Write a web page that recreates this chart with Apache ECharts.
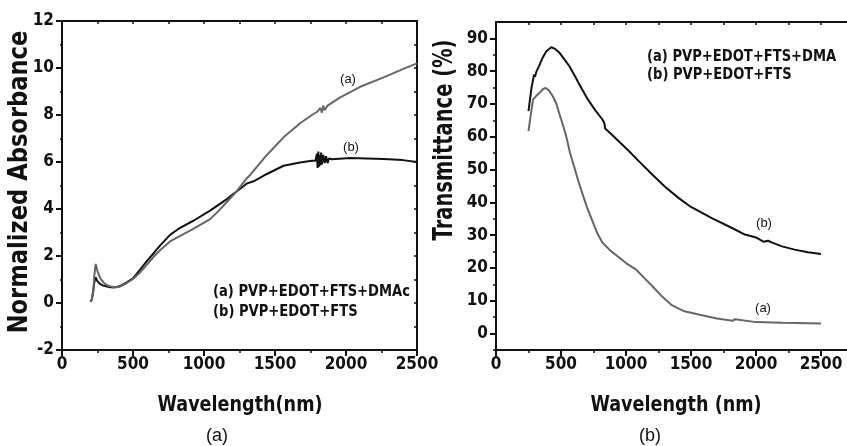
<!DOCTYPE html>
<html>
<head>
<meta charset="utf-8">
<script src="https://cdn.jsdelivr.net/npm/echarts@6/dist/echarts.min.js"></script>
<style>
  html, body { margin: 0; padding: 0; background: #fff; }
  #main { width: 847px; height: 446px; }
</style>
</head>
<body>
<div id="main"></div>
<script>
// panel (a): normalized absorbance
const absWlA = [200, 210, 220, 228, 237, 250, 270, 300, 330, 370, 400, 456, 500, 550, 600, 650, 700, 761, 832, 925, 1043, 1100, 1161, 1230, 1300, 1325, 1443, 1560, 1677, 1760, 1800, 1820, 1830, 1840, 1850, 1870, 1959, 2100, 2265, 2400, 2500]
const absA = [0.05, 0.15, 0.5, 1.2, 1.66, 1.35, 1.05, 0.82, 0.72, 0.67, 0.68, 0.85, 1.02, 1.3, 1.65, 2.0, 2.3, 2.62, 2.86, 3.15, 3.57, 3.9, 4.3, 4.75, 5.3, 5.45, 6.3, 7.05, 7.65, 8.0, 8.15, 8.3, 8.1, 8.4, 8.2, 8.4, 8.75, 9.2, 9.6, 9.95, 10.2]
const absWlB = [200, 210, 220, 228, 237, 250, 270, 291, 330, 362, 400, 456, 500, 550, 600, 650, 690, 761, 832, 925, 1043, 1161, 1230, 1280, 1300, 1310, 1349, 1443, 1560, 1677, 1760, 1785, 1795, 1800, 1805, 1810, 1815, 1820, 1825, 1830, 1840, 1850, 1860, 1870, 1880, 1900, 2030, 2265, 2400, 2500]
const absB = [0.05, 0.15, 0.5, 0.9, 1.09, 0.92, 0.8, 0.74, 0.68, 0.66, 0.7, 0.88, 1.05, 1.42, 1.8, 2.15, 2.44, 2.9, 3.2, 3.5, 3.93, 4.42, 4.75, 4.98, 5.08, 5.04, 5.18, 5.49, 5.84, 5.98, 6.05, 6.05, 6.35, 5.75, 6.45, 5.8, 6.3, 5.85, 6.4, 5.9, 6.3, 5.95, 6.25, 5.95, 6.15, 6.12, 6.17, 6.13, 6.08, 6.0]

// panel (b): transmittance
const trWlA = [250, 265, 285, 310, 336, 360, 382, 410, 438, 465, 489, 515, 540, 570, 600, 642, 700, 743, 780, 820, 880, 947, 1000, 1075, 1140, 1202, 1280, 1355, 1450, 1584, 1700, 1820, 1839, 1850, 2000, 2200, 2500]
const trA = [61.7, 66, 71.3, 72.5, 73.4, 74.5, 74.9, 74, 72.3, 70, 66.8, 63.5, 60.2, 55, 51, 45.4, 38.5, 34.2, 30.5, 27.7, 25.3, 23.2, 21.5, 19.6, 17, 14.5, 11.2, 8.6, 6.8, 5.6, 4.6, 3.9, 4.4, 3.8, 3.5, 3.3, 3.05]
const trWlB = [250, 273, 293, 300, 310, 336, 360, 387, 425, 455, 489, 530, 565, 610, 650, 700, 760, 820, 833, 840, 900, 1024, 1100, 1202, 1300, 1406, 1500, 1660, 1800, 1915, 2000, 2060, 2093, 2120, 2200, 2297, 2400, 2500]
const trB = [67.8, 74.9, 79, 78.3, 79.8, 82, 84.2, 86.1, 87.3, 86.8, 85.6, 83.4, 81.5, 78.3, 75.3, 71.8, 68.3, 65.2, 64.2, 62.5, 60.3, 55.6, 52.5, 48.5, 44.8, 41.3, 38.6, 35.2, 32.5, 30.2, 29.3, 28.0, 28.3, 27.8, 26.6, 25.6, 24.8, 24.3]

// tick values
const absXTicks = [0, 500, 1000, 1500, 2000, 2500]
const absYTicks = [-2, 0, 2, 4, 6, 8, 10, 12]
const trXTicks = [0, 500, 1000, 1500, 2000, 2500]
const trXMinor = [250, 750, 1250, 1750, 2250]
const trXTop = [0, 250, 500, 750, 1000, 1250, 1500, 1750, 2000, 2250, 2500]
const trYTicks = [0, 10, 20, 30, 40, 50, 60, 70, 80, 90]
const trYMinor = [-5, 5, 15, 25, 35, 45, 55, 65, 75, 85]

const zip = (xs, ys) => xs.map((x, i) => [x, ys[i]])

const INK = '#111'
const GRAY = '#666'
const tickFont = "'Liberation Sans Narrow', 'DejaVu Sans Condensed', 'DejaVu Sans', sans-serif"
const boldFont = "'DejaVu Sans', sans-serif"

const line = { show: true, onZero: false, lineStyle: { color: INK, width: 2 } }
const noLine = { show: false, onZero: false }
const tickLabel = { color: INK, fontFamily: tickFont, fontWeight: 'bold', fontSize: 17, formatter: v => String(v) }

const chart = echarts.init(document.getElementById('main'), null, { renderer: 'canvas' })

const option = {
  animation: false,
  backgroundColor: '#fff',
  grid: [
    { left: 62, top: 21, width: 355, height: 329 },
    { left: 496, top: 22, width: 353, height: 328 }
  ],
  xAxis: [
    // left bottom
    {
      type: 'value', gridIndex: 0, position: 'bottom', min: 0, max: 2500, interval: 500,
      axisLine: line,
      axisTick: { show: true, length: 6, lineStyle: { color: INK, width: 2 } },
      minorTick: { show: true, splitNumber: 2, length: 3, lineStyle: { color: INK, width: 1.5 } },
      axisLabel: Object.assign({ margin: 6, customValues: absXTicks }, tickLabel),
      splitLine: { show: false }
    },
    // left top frame
    {
      type: 'value', gridIndex: 0, position: 'top', min: 0, max: 2500, interval: 500,
      axisLine: line,
      axisTick: { show: true, inside: true, length: 3, lineStyle: { color: INK, width: 1.5 } },
      minorTick: { show: true, splitNumber: 2, length: 3, lineStyle: { color: INK, width: 1.5 } },
      axisLabel: { show: false },
      splitLine: { show: false }
    },
    // right bottom
    {
      type: 'value', gridIndex: 1, position: 'bottom', min: 0, max: 2700,
      axisLine: line,
      axisTick: { show: true, length: 6, customValues: trXTicks, lineStyle: { color: INK, width: 2 } },
      axisLabel: Object.assign({ margin: 6, customValues: trXTicks }, tickLabel),
      splitLine: { show: false }
    },
    // right bottom minor ticks
    {
      type: 'value', gridIndex: 1, position: 'bottom', min: 0, max: 2700,
      axisLine: noLine,
      axisTick: { show: true, length: 3, customValues: trXMinor, lineStyle: { color: INK, width: 1.5 } },
      axisLabel: { show: false, customValues: trXMinor },
      splitLine: { show: false }
    },
    // right top frame
    {
      type: 'value', gridIndex: 1, position: 'top', min: 0, max: 2700,
      axisLine: line,
      axisTick: { show: true, inside: true, length: 3, customValues: trXTop, lineStyle: { color: INK, width: 1.5 } },
      axisLabel: { show: false, customValues: trXTop },
      splitLine: { show: false }
    }
  ],
  yAxis: [
    // left panel left
    {
      type: 'value', gridIndex: 0, position: 'left', min: -2, max: 12, interval: 2,
      axisLine: line,
      axisTick: { show: true, length: 6, lineStyle: { color: INK, width: 2 } },
      minorTick: { show: true, splitNumber: 2, length: 2, lineStyle: { color: INK, width: 1.5 } },
      axisLabel: Object.assign({ margin: 8, customValues: absYTicks }, tickLabel),
      splitLine: { show: false }
    },
    // left panel right frame
    {
      type: 'value', gridIndex: 0, position: 'right', min: -2, max: 12, interval: 2,
      axisLine: line,
      axisTick: { show: true, inside: true, length: 3, lineStyle: { color: INK, width: 1.5 } },
      minorTick: { show: true, splitNumber: 2, length: 3, lineStyle: { color: INK, width: 1.5 } },
      axisLabel: { show: false },
      splitLine: { show: false }
    },
    // right panel left
    {
      type: 'value', gridIndex: 1, position: 'left', min: -5, max: 95,
      axisLine: line,
      axisTick: { show: true, length: 6, customValues: trYTicks, lineStyle: { color: INK, width: 2 } },
      axisLabel: Object.assign({ margin: 8, customValues: trYTicks }, tickLabel),
      splitLine: { show: false }
    },
    // right panel left minor ticks
    {
      type: 'value', gridIndex: 1, position: 'left', min: -5, max: 95,
      axisLine: noLine,
      axisTick: { show: true, length: 3, customValues: trYMinor, lineStyle: { color: INK, width: 1.5 } },
      axisLabel: { show: false, customValues: trYMinor },
      splitLine: { show: false }
    }
  ],
  series: [
    {
      type: 'line', xAxisIndex: 0, yAxisIndex: 0, data: zip(absWlB, absB),
      showSymbol: false, lineStyle: { color: INK, width: 2 }, z: 3
    },
    {
      type: 'line', xAxisIndex: 0, yAxisIndex: 0, data: zip(absWlA, absA),
      showSymbol: false, lineStyle: { color: GRAY, width: 2 }, z: 4
    },
    {
      type: 'line', xAxisIndex: 2, yAxisIndex: 2, data: zip(trWlB, trB),
      showSymbol: false, lineStyle: { color: INK, width: 2 }, z: 3
    },
    {
      type: 'line', xAxisIndex: 2, yAxisIndex: 2, data: zip(trWlA, trA),
      showSymbol: false, lineStyle: { color: GRAY, width: 2 }, z: 4
    }
  ],
  graphic: [
    // axis titles
    {
      type: 'text', x: 20, y: 182, rotation: Math.PI / 2, scaleX: 0.87,
      style: { text: 'Normalized Absorbance', fontFamily: boldFont, fontWeight: 'bold', fontSize: 26, fill: INK, align: 'center', verticalAlign: 'middle' }
    },
    {
      type: 'text', x: 240, y: 405, scaleX: 0.8,
      style: { text: 'Wavelength(nm)', fontFamily: boldFont, fontWeight: 'bold', fontSize: 22, fill: INK, align: 'center', verticalAlign: 'middle' }
    },
    {
      type: 'text', x: 217, y: 436,
      style: { text: '(a)', fontFamily: 'Liberation Sans, sans-serif', fontSize: 18, fill: INK, align: 'center', verticalAlign: 'middle' }
    },
    {
      type: 'text', x: 445, y: 140, rotation: Math.PI / 2, scaleX: 0.75,
      style: { text: 'Transmittance (%)', fontFamily: boldFont, fontWeight: 'bold', fontSize: 26, fill: INK, align: 'center', verticalAlign: 'middle' }
    },
    {
      type: 'text', x: 676, y: 405, scaleX: 0.8,
      style: { text: 'Wavelength (nm)', fontFamily: boldFont, fontWeight: 'bold', fontSize: 22, fill: INK, align: 'center', verticalAlign: 'middle' }
    },
    {
      type: 'text', x: 650, y: 436,
      style: { text: '(b)', fontFamily: 'Liberation Sans, sans-serif', fontSize: 18, fill: INK, align: 'center', verticalAlign: 'middle' }
    },
    // legends
    {
      type: 'text', x: 213, y: 292, scaleX: 0.82,
      style: { text: '(a) PVP+EDOT+FTS+DMAc', fontFamily: boldFont, fontWeight: 'bold', fontSize: 16, fill: INK, align: 'left', verticalAlign: 'middle' }
    },
    {
      type: 'text', x: 213, y: 312, scaleX: 0.82,
      style: { text: '(b) PVP+EDOT+FTS', fontFamily: boldFont, fontWeight: 'bold', fontSize: 16, fill: INK, align: 'left', verticalAlign: 'middle' }
    },
    {
      type: 'text', x: 647, y: 57, scaleX: 0.82,
      style: { text: '(a) PVP+EDOT+FTS+DMA', fontFamily: boldFont, fontWeight: 'bold', fontSize: 16, fill: INK, align: 'left', verticalAlign: 'middle' }
    },
    {
      type: 'text', x: 647, y: 75, scaleX: 0.82,
      style: { text: '(b) PVP+EDOT+FTS', fontFamily: boldFont, fontWeight: 'bold', fontSize: 16, fill: INK, align: 'left', verticalAlign: 'middle' }
    },
    // curve labels
    {
      type: 'text', x: 348, y: 79,
      style: { text: '(a)', fontFamily: 'Liberation Sans, sans-serif', fontSize: 13, fill: INK, align: 'center', verticalAlign: 'middle' }
    },
    {
      type: 'text', x: 351, y: 147,
      style: { text: '(b)', fontFamily: 'Liberation Sans, sans-serif', fontSize: 13, fill: INK, align: 'center', verticalAlign: 'middle' }
    },
    {
      type: 'text', x: 764, y: 223,
      style: { text: '(b)', fontFamily: 'Liberation Sans, sans-serif', fontSize: 13, fill: INK, align: 'center', verticalAlign: 'middle' }
    },
    {
      type: 'text', x: 763, y: 308,
      style: { text: '(a)', fontFamily: 'Liberation Sans, sans-serif', fontSize: 13, fill: INK, align: 'center', verticalAlign: 'middle' }
    }
  ]
}

chart.setOption(option)
</script>
</body>
</html>
